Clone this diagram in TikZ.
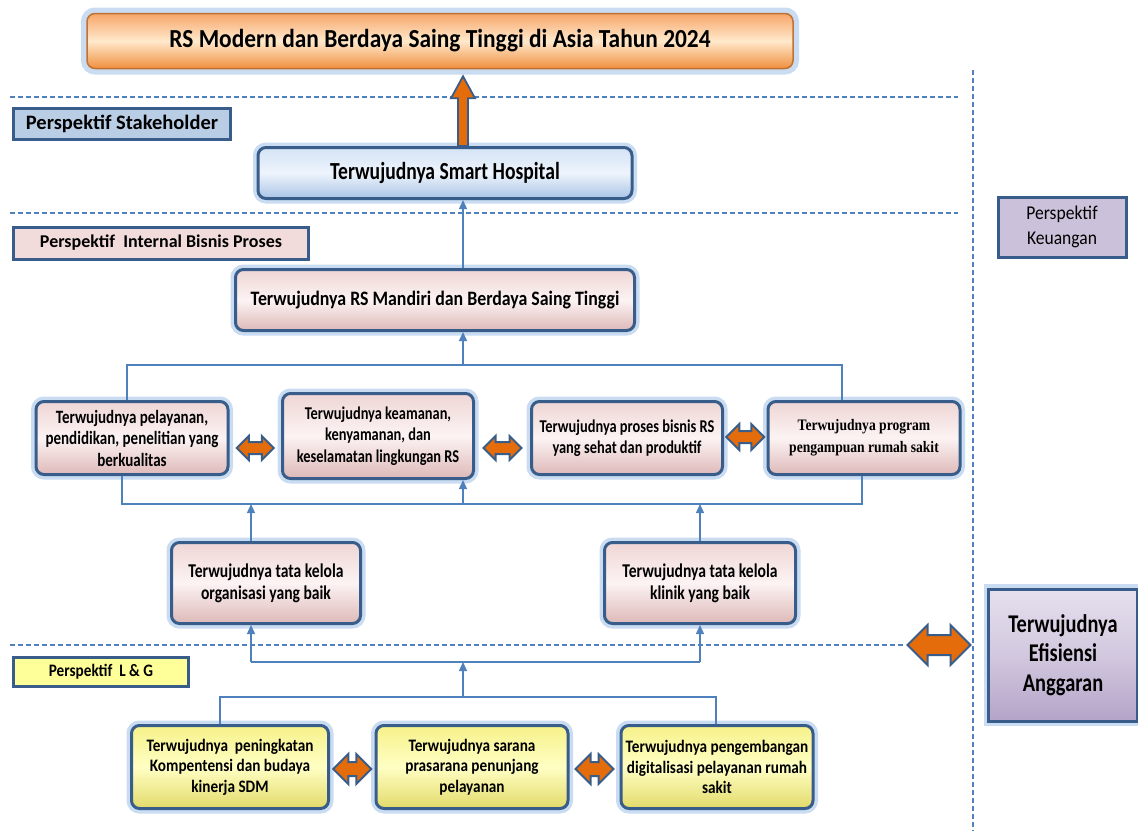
\documentclass[tikz,border=0pt]{standalone}
\usepackage{fontspec}
\setmainfont{Carlito}
\newfontfamily\cfa[FakeStretch=0.8]{Carlito}
\newfontfamily\cfb[FakeStretch=0.87]{Carlito}
\newfontfamily\cfc[FakeStretch=0.9]{Carlito}
\newfontfamily\cfs[FakeStretch=0.85]{Liberation Serif}
\usetikzlibrary{shapes.arrows,calc,arrows.meta}
\definecolor{bdr}{HTML}{385D8A}
\definecolor{ln}{HTML}{4F81BD}
\definecolor{org}{HTML}{E46C0A}
\definecolor{glow}{HTML}{C9DCF2}
\definecolor{pinkT}{HTML}{EED6D5}
\definecolor{pinkM}{HTML}{FCF3F3}
\definecolor{pinkB}{HTML}{DDB9B8}
\definecolor{bluT}{HTML}{D3E3F6}
\definecolor{bluM}{HTML}{EEF4FC}
\definecolor{bluB}{HTML}{A9C4E6}
\definecolor{yelT}{HTML}{F6F18A}
\definecolor{yelM}{HTML}{FFFFC4}
\definecolor{yelB}{HTML}{E2DA6A}
\definecolor{orgT}{HTML}{F7A66A}
\definecolor{orgM}{HTML}{FFE9CC}
\definecolor{orgB}{HTML}{F08F3E}
\definecolor{lavT}{HTML}{E6E0EE}
\definecolor{lavB}{HTML}{B4A4C8}
\definecolor{stkF}{HTML}{B9CDE5}
\definecolor{intF}{HTML}{F2DCDB}
\definecolor{lgF}{HTML}{FFFF99}
\definecolor{keuF}{HTML}{CCC1DA}
\tikzset{
  glowbox/.style={rounded corners=8pt, draw=bdr, line width=3pt, align=center, inner sep=2pt,
    preaction={draw=glow, line width=10pt}},
  pinkbox/.style={glowbox, top color=pinkT, bottom color=pinkB, middle color=pinkM},
  bluebox/.style={glowbox, top color=bluT, bottom color=bluB, middle color=bluM},
  yelbox/.style={glowbox, top color=yelT, bottom color=yelB, middle color=yelM},
  titlebox/.style={rounded corners=8pt, draw=orgB!80!black, line width=1.5pt, align=center,
    top color=orgT, bottom color=orgB, middle color=orgM, preaction={draw=glow, line width=12pt}},
  tag/.style={draw=bdr, line width=3pt, align=center, inner sep=1pt},
  conn/.style={draw=ln, line width=1.4pt},
  arr/.style={conn, -{Triangle[length=9pt,width=8pt]}},
  dashln/.style={draw=ln, line width=1.6pt, dash pattern=on 5pt off 3pt},
  dbl/.style={double arrow, draw=bdr, fill=org, line width=2pt, inner xsep=0pt, minimum width=0pt},
  bigarr/.style={fill=org, draw=bdr, line width=1.8pt, line join=miter},
  rowtxt/.style={font=\cfa\bfseries\fontsize{18}{21.5}\selectfont},
  tatatxt/.style={font=\cfa\bfseries\fontsize{19.5}{22}\selectfont},
  lgtxt/.style={font=\cfb\bfseries\fontsize{17.5}{20.5}\selectfont},
}
\begin{document}
\begin{tikzpicture}[x=1pt,y=-1pt]
\useasboundingbox (0,0) rectangle (1138,831);
% dashed separators
\draw[dashln] (10,97) -- (958,97);
\draw[dashln] (10,213) -- (958,213);
\draw[dashln] (10,645) -- (905,645);
\draw[dashln] (973,70) -- (973,831);
% coordinates
\coordinate (spine) at (463,0);
\coordinate (xa) at (251,0);
\coordinate (xb) at (700,0);
\coordinate (xc) at (220,0);
\coordinate (xg) at (716,0);
\coordinate (xl) at (127,0);
\coordinate (xr) at (842,0);
\coordinate (xl2) at (122,0);
\coordinate (xr2) at (862,0);
\coordinate (topbus) at (463,365);
\coordinate (lowbus) at (463,504);
\coordinate (lgbus) at (463,662);
\coordinate (gbus) at (463,697);
% title
\node[titlebox, minimum width=706pt, minimum height=55pt, font=\cfc\bfseries\fontsize{26}{28}\selectfont] (top) at (440,41) {RS Modern dan Berdaya Saing Tinggi di Asia Tahun 2024};
% perspective tags
\node[tag, fill=stkF, minimum width=217pt, minimum height=31pt, font=\bfseries\fontsize{20.5}{22}\selectfont] (ps) at (122,124) {Perspektif Stakeholder};
\node[tag, fill=intF, minimum width=295pt, minimum height=32pt, font=\bfseries\fontsize{18}{20}\selectfont] (pi) at (161,243) {Perspektif\ \ Internal Bisnis Proses};
\node[tag, fill=lgF, minimum width=175pt, minimum height=29pt, font=\cfb\bfseries\fontsize{17.5}{18}\selectfont] (pl) at (101,672) {Perspektif\ \ L \& G};
\node[tag, fill=keuF, minimum width=128pt, minimum height=60pt, font=\cfc\fontsize{19.5}{25}\selectfont] (pk) at (1062,227) {Perspektif\\Keuangan};
% main boxes
\node[bluebox, minimum width=374pt, minimum height=51pt, font=\cfa\bfseries\fontsize{24.5}{26}\selectfont] (sh) at (445,173) {Terwujudnya Smart Hospital};
\node[pinkbox, minimum width=399pt, minimum height=61pt, font=\cfb\bfseries\fontsize{20.5}{22}\selectfont] (mandiri) at (435,300) {Terwujudnya RS Mandiri dan Berdaya Saing Tinggi};
\node[pinkbox, rowtxt, minimum width=192pt, minimum height=73pt, font=\cfa\bfseries\fontsize{18.8}{21.5}\selectfont] (b1) at (132,438) {Terwujudnya pelayanan,\\pendidikan, penelitian yang\\berkualitas};
\node[pinkbox, rowtxt, minimum width=191pt, minimum height=85pt] (b2) at (378,436) {Terwujudnya keamanan,\\kenyamanan, dan\\keselamatan lingkungan RS};
\node[pinkbox, rowtxt, minimum width=191pt, minimum height=73pt] (b3) at (627,438) {Terwujudnya proses bisnis RS\\yang sehat dan produktif};
\node[pinkbox, minimum width=192pt, minimum height=73pt, font=\cfs\bfseries\fontsize{16}{22}\selectfont] (b4) at (864,438) {Terwujudnya program\\pengampuan rumah sakit};
\node[pinkbox, tatatxt, minimum width=189pt, minimum height=81pt] (t1) at (266,583) {Terwujudnya tata kelola\\organisasi yang baik};
\node[pinkbox, tatatxt, minimum width=191pt, minimum height=81pt] (t2) at (700,583) {Terwujudnya tata kelola\\klinik yang baik};
\node[yelbox, lgtxt, minimum width=197pt, minimum height=83pt] (g1) at (230,767) {Terwujudnya\ \ peningkatan\\Kompentensi dan budaya\\kinerja SDM};
\node[yelbox, lgtxt, minimum width=192pt, minimum height=83pt] (g2) at (472,767) {Terwujudnya sarana\\prasarana penunjang\\pelayanan};
\node[yelbox, lgtxt, minimum width=192pt, minimum height=83pt] (g3) at (717,767) {Terwujudnya pengembangan\\digitalisasi pelayanan rumah\\sakit};
\node[draw=bdr, line width=3pt, align=center, top color=lavT, bottom color=lavB, middle color=lavT!60!lavB,
  preaction={draw=glow, line width=10pt}, minimum width=149pt, minimum height=132pt,
  font=\cfa\bfseries\fontsize{25.5}{29.5}\selectfont] (efis) at (1063,655) {Terwujudnya\\Efisiensi\\Anggaran};
% big arrow to the title
\draw[bigarr] ($(sh.north -| spine)+(-5,0)$) -- ($(top.south -| spine)+(-5,29)$) -- ($(top.south -| spine)+(-12,29)$)
  -- ($(top.south -| spine)+(0,7)$) -- ($(top.south -| spine)+(12,29)$) -- ($(top.south -| spine)+(5,29)$)
  -- ($(sh.north -| spine)+(5,0)$) -- cycle;
% connectors
\draw[arr] (mandiri.north -| spine) -- (sh.south -| spine);
\draw[conn] (b1.north -| xl) |- (topbus) -| (b4.north -| xr);
\draw[arr] (topbus) -- (mandiri.south -| topbus);
\draw[conn] (b1.south -| xl2) |- (lowbus) -| (b4.south -| xr2);
\draw[arr] (lowbus) -- (b2.south -| lowbus);
\draw[arr] (t1.north -| xa) -- (lowbus -| xa);
\draw[arr] (t2.north -| xb) -- (lowbus -| xb);
\draw[conn] (lgbus -| xa) -- (lgbus -| xb);
\draw[arr] (lgbus -| xa) -- (t1.south -| xa);
\draw[arr] (lgbus -| xb) -- (t2.south -| xb);
\draw[arr] (gbus) -- (lgbus);
\draw[conn] (g1.north -| xc) |- (gbus) -| (g3.north -| xg);
% double arrows
\node[dbl, minimum height=37pt, inner ysep=5pt, double arrow head extend=6pt] (d1) at ($(b1.east)!0.5!(b2.west)+(0,11)$) {};
\node[dbl, minimum height=38pt, inner ysep=5pt, double arrow head extend=6pt] (d2) at ($(b2.east)!0.5!(b3.west)+(0,11)$) {};
\node[dbl, minimum height=38pt, inner ysep=5pt, double arrow head extend=7pt] (d3) at ($(b3.east)!0.5!(b4.west)+(0,-1)$) {};
\node[dbl, minimum height=38pt, inner ysep=6pt, double arrow head extend=8pt] (d4) at ($(g1.east)!0.5!(g2.west)+(0,2)$) {};
\node[dbl, minimum height=38pt, inner ysep=6pt, double arrow head extend=8pt] (d5) at ($(g2.east)!0.5!(g3.west)+(0,2)$) {};
\node[dbl, minimum height=63pt, inner ysep=9pt, double arrow head extend=10pt] (d6) at ($(efis.west)+(-48,-10)$) {};
\end{tikzpicture}
\end{document}
